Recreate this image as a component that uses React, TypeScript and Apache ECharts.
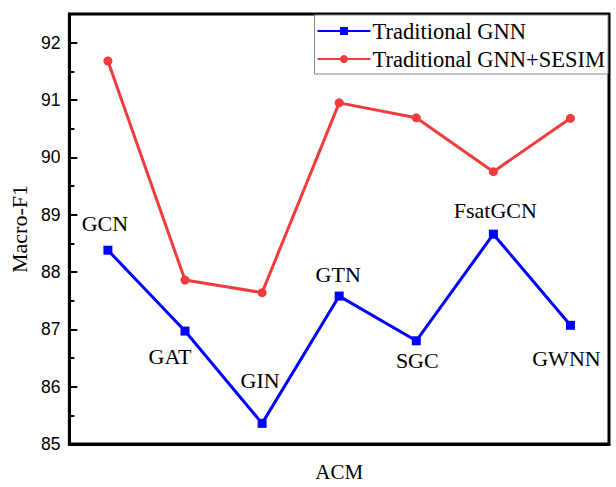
import React, { useEffect, useRef } from "react";
import * as echarts from "echarts";

const categories = ["GCN", "GAT", "GIN", "GTN", "SGC", "FsatGCN", "GWNN"];
const traditionalGNN = [88.38, 86.97, 85.36, 87.58, 86.8, 88.66, 87.07];
const traditionalGNNSESIM = [91.68, 87.86, 87.64, 90.95, 90.69, 89.75, 90.68];
const seriesNames = ["Traditional GNN", "Traditional GNN+SESIM"];
const yTicks = [85, 86, 87, 88, 89, 90, 91, 92];

// label offsets (dx, dy) relative to each blue point
const labelOffsets: [number, number][] = [
  [-3, -27],
  [-15, 25],
  [-2, -43],
  [-1, -22],
  [1, 20],
  [2, -24],
  [-4, 33],
];

const SERIF = "'Liberation Serif', 'Times New Roman', serif";
const SANS = "'Liberation Sans', Arial, sans-serif";

export default function App() {
  const ref = useRef<HTMLDivElement>(null);
  useEffect(() => {
    if (!ref.current) return;
    const chart = echarts.init(ref.current, undefined, { renderer: "svg" });
    chart.setOption({
      animation: false,
      backgroundColor: "#ffffff",
      grid: {
        left: 69,
        right: 7,
        top: 14,
        bottom: 40,
        show: true,
        borderColor: "#000",
        borderWidth: 3,
        backgroundColor: "transparent",
      },
      legend: {
        orient: "vertical",
        right: 8,
        top: 15,
        data: seriesNames,
        itemWidth: 53,
        itemHeight: 10,
        itemGap: 2,
        padding: [3, 3, 2, 2],
        borderColor: "#888",
        borderWidth: 1,
        backgroundColor: "#fff",
        textStyle: {
          fontFamily: SERIF,
          fontSize: 22.5,
          color: "#000",
          lineHeight: 26,
          padding: [0, 0, 0, -3],
        },
      },
      xAxis: {
        type: "category",
        data: categories,
        boundaryGap: true,
        name: "ACM",
        nameLocation: "middle",
        nameGap: 17,
        nameTextStyle: { fontFamily: SERIF, fontSize: 21, color: "#000" },
        axisLine: { show: true, lineStyle: { color: "#000", width: 3 } },
        axisTick: { show: false },
        axisLabel: { show: false },
        splitLine: { show: false },
      },
      yAxis: {
        type: "value",
        min: yTicks[0],
        max: 92.5,
        interval: 1,
        name: "Macro-F1",
        nameLocation: "middle",
        nameGap: 31,
        nameTextStyle: { fontFamily: SERIF, fontSize: 22, color: "#000" },
        axisLine: { show: true, lineStyle: { color: "#000", width: 3 } },
        axisTick: { show: true, inside: true, length: 8, lineStyle: { color: "#000", width: 2 } },
        minorTick: { show: true, splitNumber: 2, length: 5, lineStyle: { color: "#000", width: 2 } },
        axisLabel: {
          fontFamily: SANS,
          fontSize: 17.5,
          color: "#000",
          margin: 9,
          showMaxLabel: false,
          formatter: (v: number) => (yTicks.includes(v) ? String(v) : ""),
        },
        splitLine: { show: false },
      },
      series: [
        {
          name: seriesNames[0],
          type: "line",
          data: traditionalGNN.map((v, i) => ({
            value: v,
            label: {
              show: true,
              position: "inside",
              offset: labelOffsets[i],
              formatter: categories[i],
            },
          })),
          symbol: "rect",
          symbolSize: 9,
          itemStyle: { color: "#0000FF" },
          lineStyle: { color: "#0000FF", width: 3 },
          label: {
            fontFamily: SERIF,
            fontSize: 22,
            color: "#000",
            align: "center",
            verticalAlign: "middle",
          },
          z: 3,
        },
        {
          name: seriesNames[1],
          type: "line",
          data: traditionalGNNSESIM,
          symbol: "circle",
          symbolSize: 9,
          itemStyle: { color: "#F03C3C" },
          lineStyle: { color: "#F03C3C", width: 3 },
          z: 2,
        },
      ],
    });
    return () => chart.dispose();
  }, []);
  return (
    <div
      ref={ref}
      style={{ position: "fixed", left: 0, top: 0, width: 616, height: 487 }}
    />
  );
}
